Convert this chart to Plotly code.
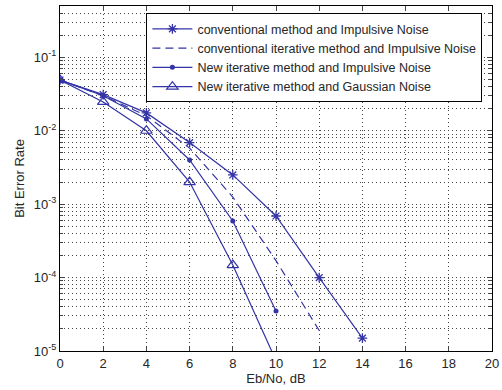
import plotly.graph_objects as go
import numpy as np

snr = [0, 2, 4, 6, 8, 10, 12, 14]
conv_imp = [0.049, 0.031, 0.0175, 0.0069, 0.0025, 0.00069, 0.0001, 0.000015]
snr_iter = [0, 2, 4, 6, 8, 10, 12]
conv_iter_imp = [0.049, 0.030, 0.0160, 0.0058, 0.00125, 0.00017, 0.000019]
snr_new = [0, 2, 4, 6, 8, 10]
new_iter_imp = [0.049, 0.030, 0.0145, 0.0040, 0.00059, 0.000035]
new_iter_gauss = [0.049, 0.0247, 0.0100, 0.0020, 0.000148, 0.0000074]

names = ["conventional method and Impulsive Noise",
         "conventional iterative method and Impulsive Noise",
         "New iterative method and Impulsive Noise",
         "New iterative method and Gaussian Noise"]

xticks = list(range(0, 21, 2))
yticks = [1e-5, 1e-4, 1e-3, 1e-2, 1e-1]
yticktext = ["10<sup>-5</sup>", "10<sup>-4</sup>", "10<sup>-3</sup>", "10<sup>-2</sup>", "10<sup>-1</sup>"]

col = "#3434a8"
font = "Liberation Sans, Arial, sans-serif"
txtcol = "#262626"

fig = go.Figure()
fig.add_trace(go.Scatter(x=snr, y=conv_imp, name=names[0], mode="lines+markers",
                         line=dict(color=col, width=1.2),
                         marker=dict(symbol="asterisk-open", size=8, color=col, line=dict(color=col, width=1.3))))
fig.add_trace(go.Scatter(x=snr_iter, y=conv_iter_imp, name=names[1], mode="lines",
                         line=dict(color=col, width=1.2, dash="8px,5px")))
fig.add_trace(go.Scatter(x=snr_new, y=new_iter_imp, name=names[2], mode="lines+markers",
                         line=dict(color=col, width=1.2),
                         marker=dict(symbol="circle", size=5, color=col)))
fig.add_trace(go.Scatter(x=snr_new, y=new_iter_gauss, name=names[3], mode="lines+markers",
                         line=dict(color=col, width=1.2),
                         marker=dict(symbol="triangle-up-open", size=10, color=col, line=dict(color=col, width=1.2))))

minor_y = []
for d in range(-5, 0):
    for k in range(2, 10):
        v = k * 10 ** d
        if v <= 0.5:
            minor_y.append(v)

grid_dash = "1px,3px"
fig.update_xaxes(range=[0, 20], tickvals=xticks, ticks="inside", ticklen=5,
                 showline=True, linecolor="black", linewidth=1, mirror="ticks",
                 showgrid=True, gridcolor="#444444", griddash=grid_dash, gridwidth=1,
                 zeroline=False, ticklabeloverflow="allow",
                 tickfont=dict(family=font, size=13, color=txtcol),
                 title=dict(text="Eb/No, dB", font=dict(family=font, size=13, color=txtcol), standoff=3))
fig.update_yaxes(type="log", range=[-5, np.log10(0.5)], tickvals=yticks, ticktext=yticktext,
                 ticks="inside", ticklen=5,
                 showline=True, linecolor="black", linewidth=1, mirror="ticks",
                 showgrid=True, gridcolor="#444444", griddash=grid_dash, gridwidth=1,
                 minor=dict(tickvals=minor_y, ticks="inside", ticklen=3, showgrid=True,
                            gridcolor="#444444", griddash=grid_dash, gridwidth=1),
                 zeroline=False, tickfont=dict(family=font, size=13, color=txtcol),
                 title=dict(text="Bit Error Rate", font=dict(family=font, size=13, color=txtcol), standoff=6))

fig.update_layout(width=502, height=390, margin=dict(l=60, r=3, t=6, b=39),
                  paper_bgcolor="white", plot_bgcolor="white",
                  showlegend=True,
                  legend=dict(x=0.2, y=0.979, xanchor="left", yanchor="top",
                              bgcolor="white", bordercolor="black", borderwidth=1,
                              font=dict(family=font, size=12.5, color=txtcol),
                              tracegroupgap=0, itemwidth=40))

fig.write_html("out.html")
